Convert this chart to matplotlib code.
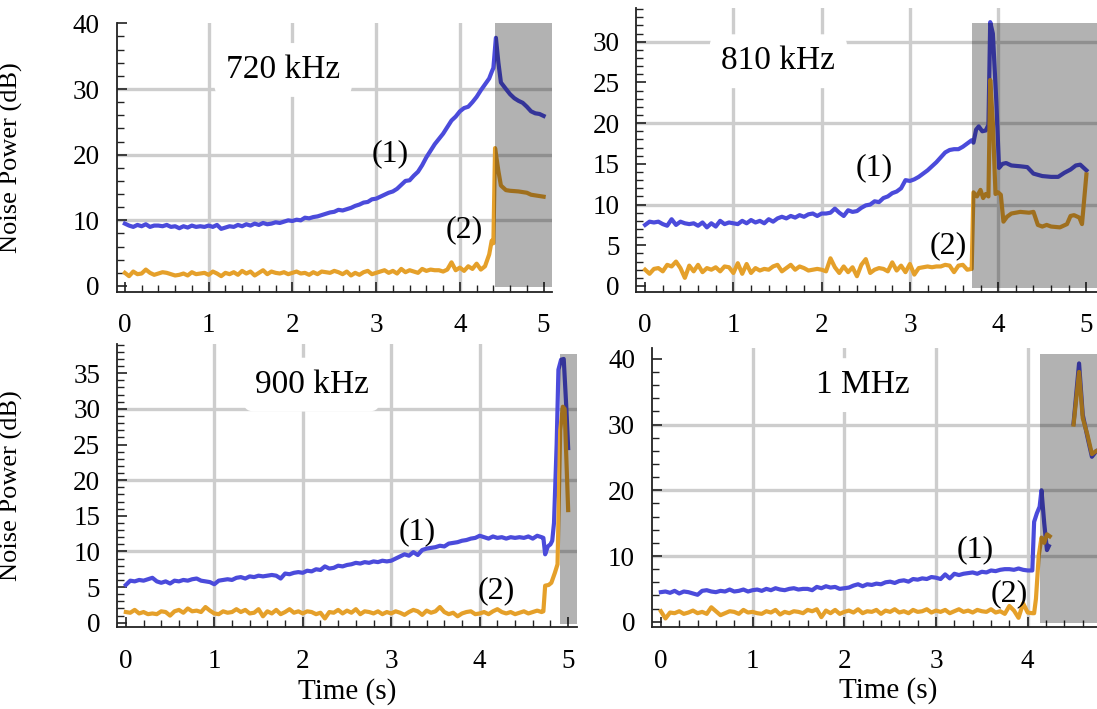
import numpy as np
import matplotlib
matplotlib.use("Agg")
import matplotlib.pyplot as plt
from matplotlib.ticker import MultipleLocator, FixedLocator

plt.rcParams['font.family'] = ['Liberation Serif', 'DejaVu Serif']

BLUE = '#4b4bdb'
ORANGE = '#e5a02a'
STEP = 0.05

# ---------------- 720 kHz ----------------
blue_720_base = [
    9.5, 9.2, 9.0, 9.3, 9.1, 9.4, 9.0, 9.2, 9.2, 9.1,
    9.3, 9.0, 9.1, 8.8, 9.1, 8.9, 9.2, 9.0, 9.1, 9.0,
    9.2, 9.0, 9.3, 8.7, 8.9, 9.1, 9.0, 9.3, 9.1, 9.4,
    9.2, 9.5, 9.3, 9.6, 9.4, 9.5, 9.7, 9.6, 9.8, 10.0,
    9.9, 10.1, 10.0, 10.4, 10.3, 10.5, 10.6, 10.8, 11.0, 11.2,
    11.3, 11.6, 11.5, 11.7, 11.9, 12.2, 12.4, 12.7, 12.8, 13.2,
    13.3, 13.6, 13.9, 14.2, 14.4, 14.8, 15.4, 16.0, 16.1, 16.8,
    17.4, 18.4, 19.6, 20.6, 21.6, 22.4, 23.2, 24.2, 25.2, 25.8,
    26.6, 27.1, 27.3, 28.0, 28.8, 29.8, 30.7, 31.6]
blue_720_ev_t = [4.38, 4.40, 4.43, 4.46, 4.49, 4.55, 4.60, 4.65, 4.70, 4.75, 4.80, 4.85, 4.90, 4.95, 5.00]
blue_720_ev = [32.6, 33.2, 37.8, 34.0, 31.0, 30.0, 29.2, 28.6, 28.2, 27.9, 27.3, 26.6, 26.3, 26.2, 25.9]
orange_720_base = [
    2.0, 1.5, 2.2, 1.8, 1.9, 2.5, 2.0, 1.7, 1.9, 2.1,
    2.0, 1.8, 1.6, 1.7, 1.9, 1.6, 2.1, 1.8, 1.9, 2.0,
    1.7, 2.2, 1.9, 1.5, 2.0, 1.8, 2.1, 1.7, 2.3, 1.9,
    2.2, 1.6, 2.0, 2.4, 1.8, 2.2, 2.0, 1.9, 2.1, 1.8,
    2.0, 2.2, 1.9, 2.0, 1.7, 2.1, 1.8, 2.2, 2.1, 2.0,
    2.3, 2.1, 1.8, 2.2, 1.6, 2.0, 1.7, 2.1, 2.3, 1.8,
    2.0, 2.2, 2.4, 2.0, 2.3, 1.9, 2.6, 2.1, 2.4, 2.2,
    2.0, 2.6, 2.3, 2.5, 2.4, 2.4, 2.2, 2.5, 3.6, 2.4,
    2.8, 2.3, 3.0, 2.6, 3.4, 2.5, 3.0, 4.8]
orange_720_ev_t = [4.38, 4.40, 4.42, 4.46, 4.49, 4.55, 4.60, 4.70, 4.80, 4.85, 4.90, 5.00]
orange_720_ev = [6.9, 6.5, 21.0, 17.5, 15.3, 14.6, 14.5, 14.4, 14.2, 13.9, 13.8, 13.6]

# ---------------- 810 kHz ----------------
blue_810_base = [
    7.5, 7.9, 7.8, 7.9, 7.6, 7.4, 8.2, 7.5, 7.9, 7.7,
    7.6, 7.7, 7.4, 7.8, 7.2, 7.7, 7.3, 8.0, 7.6, 7.8,
    7.7, 7.6, 8.0, 7.7, 8.1, 7.8, 8.0, 7.7, 8.2, 7.9,
    8.3, 8.5, 8.3, 8.6, 8.4, 8.7, 8.5, 8.8, 8.9, 8.6,
    8.9, 8.9, 9.0, 9.5, 9.0, 8.6, 9.3, 9.1, 9.2, 9.6,
    9.9, 10.0, 10.4, 10.3, 10.8, 11.0, 11.4, 11.6, 12.0, 13.0,
    12.9, 13.1, 13.4, 13.8, 14.2, 14.7, 15.2, 15.8, 16.4, 16.7,
    16.8, 16.8, 17.1, 17.5, 17.9]
blue_810_ev_t = [3.72, 3.75, 3.78, 3.82, 3.86, 3.89, 3.91, 3.94, 3.98, 4.01, 4.05, 4.09, 4.15,
                 4.25, 4.33, 4.40, 4.50, 4.60, 4.68, 4.75, 4.82, 4.88, 4.93, 5.00]
blue_810_ev = [17.6, 19.2, 19.6, 19.0, 19.1, 19.8, 32.4, 31.0, 22.5, 14.5, 15.0, 15.1, 14.8,
               14.7, 14.6, 13.8, 13.5, 13.4, 13.4, 13.9, 14.3, 14.8, 14.9, 14.2]
orange_810_base = [
    2.0, 1.5, 2.1, 2.2, 1.8, 2.6, 2.4, 3.0, 2.2, 1.0,
    2.5, 1.8, 2.6, 1.7, 2.2, 2.0, 2.3, 1.8, 2.4, 2.3,
    1.6, 2.8, 1.5, 2.7, 1.6, 2.2, 1.9, 2.1, 2.0, 2.4,
    2.6, 1.8, 2.2, 2.6, 2.0, 2.4, 2.2, 1.9, 2.0, 2.1,
    2.0, 1.8, 3.4, 2.3, 1.6, 2.4, 1.7, 2.3, 1.2, 2.6,
    3.3, 1.6, 2.0, 2.2, 2.1, 1.8, 2.9, 1.9, 2.5, 1.7,
    2.7, 1.4, 2.2, 2.3, 2.4, 2.3, 2.4, 2.4, 2.6, 2.5,
    1.7, 2.5, 2.6, 2.0, 2.1]
orange_810_ev_t = [3.72, 3.76, 3.80, 3.83, 3.86, 3.89, 3.91, 3.94, 3.97, 4.00, 4.03, 4.06, 4.10,
                   4.15, 4.25, 4.35, 4.40, 4.45, 4.50, 4.55, 4.60, 4.70, 4.78, 4.82, 4.86, 4.92,
                   4.95, 5.00]
orange_810_ev = [11.5, 11.0, 11.8, 10.8, 11.3, 11.0, 25.3, 20.0, 11.3, 11.5, 11.2, 7.9, 8.5,
                 8.9, 9.1, 9.0, 9.1, 7.5, 7.3, 7.5, 7.3, 7.2, 7.6, 8.6, 8.7, 8.4,
                 7.6, 13.7]

# ---------------- 900 kHz ----------------
blue_900_base = [
    5.3, 5.9, 5.8, 6.0, 5.9, 6.1, 6.3, 5.8, 5.6, 5.8,
    5.5, 5.9, 5.8, 6.0, 5.9, 6.1, 6.2, 5.9, 5.8, 5.7,
    5.4, 5.9, 6.0, 6.1, 6.0, 6.3, 6.4, 6.2, 6.5, 6.4,
    6.6, 6.5, 6.6, 6.7, 6.6, 6.2, 6.9, 6.8, 7.0, 7.1,
    7.0, 7.3, 7.2, 7.5, 7.4, 7.9, 7.6, 7.7, 8.0, 7.9,
    8.1, 8.2, 8.4, 8.3, 8.5, 8.4, 8.6, 8.5, 8.7, 8.6,
    8.7, 9.0, 9.3, 9.6, 9.4, 9.9, 9.5, 10.2, 10.4, 10.5,
    10.6, 10.8, 10.7, 11.1, 11.2, 11.3, 11.5, 11.6, 11.8, 11.9,
    12.2, 12.0, 11.8, 12.1, 11.9, 12.0, 11.8, 12.0, 11.9, 12.0,
    11.9, 12.1, 11.8, 12.2, 12.0]
blue_900_ev_t = [4.72, 4.74, 4.77, 4.80, 4.82, 4.84, 4.87, 4.89, 4.92, 4.95, 4.98, 5.00]
blue_900_ev = [11.9, 9.6, 10.7, 11.0, 11.5, 14.0, 25.0, 35.5, 36.9, 37.0, 30.0, 24.5]
orange_900_base = [
    1.5, 1.4, 1.8, 1.3, 1.5, 1.2, 1.3, 1.2, 1.6, 1.5,
    1.0, 1.6, 1.8, 1.4, 2.0, 1.6, 1.7, 1.5, 2.2, 1.7,
    1.3, 1.2, 1.6, 1.4, 1.5, 1.9, 1.5, 1.8, 1.3, 1.4,
    1.9, 0.9, 1.6, 1.3, 1.8, 1.2, 1.5, 1.9, 1.4, 1.6,
    1.3, 1.6, 1.5, 1.2, 1.4, 0.6, 1.5, 1.4, 1.8, 1.3,
    1.7, 1.4, 1.9, 1.2, 1.6, 1.5, 1.3, 1.6, 1.2, 1.5,
    1.3, 1.6, 1.4, 1.1, 1.5, 1.8, 1.6, 1.1, 1.7, 1.4,
    1.6, 2.2, 1.5, 1.2, 1.4, 0.9, 1.3, 1.5, 1.6, 1.2,
    1.3, 1.5, 1.2, 1.6, 1.9, 1.5, 1.3, 1.5, 1.2, 1.4,
    1.6, 1.3, 1.5, 1.7, 1.5]
orange_900_ev_t = [4.72, 4.74, 4.78, 4.81, 4.85, 4.88, 4.91, 4.94, 4.96, 5.00]
orange_900_ev = [1.6, 5.2, 5.3, 5.6, 7.0, 8.2, 27.0, 30.3, 30.0, 15.8]

# ---------------- 1 MHz ----------------
blue_1m_base = [
    4.5, 4.6, 4.4, 4.7, 4.3, 4.6, 4.5, 4.3, 4.1, 4.7,
    4.8, 4.6, 4.5, 4.7, 4.6, 4.9, 4.6, 4.7, 4.9, 4.6,
    4.8, 4.9, 4.7, 5.0, 4.8, 5.1, 4.9, 4.8, 5.0, 5.1,
    4.9, 5.0, 5.0, 4.8, 5.3, 5.1, 5.4, 5.2, 5.3, 5.0,
    5.1, 5.2, 5.5, 5.7, 5.4, 5.7, 5.6, 5.8, 5.7, 6.0,
    6.1, 5.9, 6.2, 6.3, 6.1, 6.5, 6.4, 6.6, 6.5, 6.8,
    6.7, 6.5, 7.2, 6.6, 7.3, 7.1, 7.3, 7.4, 7.5, 7.3,
    7.6, 7.5, 7.8, 7.7, 7.9, 8.0, 8.0, 7.9, 8.1, 7.9,
    7.8, 7.8]
blue_1m_ev_t = [4.07, 4.10, 4.13, 4.15, 4.18, 4.21, 4.23, 4.30,
                4.50, 4.56, 4.60, 4.65, 4.70, 4.75, 4.80]
blue_1m_ev = [15.2, 16.5, 17.5, 20.0, 15.0, 10.9, 11.5, np.nan,
              30.2, 39.3, 31.5, 28.2, 25.1, 26.0, 26.2]
orange_1m_base = [
    1.6, 0.5, 1.4, 1.3, 1.6, 1.2, 1.4, 1.7, 1.3, 1.5,
    1.2, 2.2, 1.6, 1.0, 1.3, 1.6, 1.5, 1.2, 1.8, 1.4,
    1.5, 1.3, 1.2, 1.6, 1.4, 1.8, 1.1, 1.5, 1.3, 1.6,
    1.5, 1.3, 1.8, 1.6, 1.9, 0.7, 1.7, 1.3, 1.8, 1.2,
    1.5, 1.7, 1.4, 1.9, 1.3, 1.6, 1.5, 1.8, 1.2, 1.7,
    1.5, 1.9, 1.4, 1.6, 1.3, 1.8, 1.5, 1.6, 1.9, 1.4,
    1.7, 1.5, 1.8, 1.3, 1.6, 1.9, 1.5, 1.7, 1.4, 1.8,
    1.6, 1.5, 1.9, 1.4, 1.6, 1.2, 2.4, 1.7, 0.6, 2.8,
    1.4, 1.3]
orange_1m_ev_t = [4.07, 4.09, 4.12, 4.15, 4.18, 4.21, 4.24, 4.30,
                  4.50, 4.56, 4.60, 4.65, 4.70, 4.75, 4.80]
orange_1m_ev = [1.3, 3.5, 10.0, 12.8, 12.0, 13.3, 13.0, np.nan,
                30.0, 38.0, 31.0, 28.5, 25.5, 26.0, 26.2]

titles = ['720 kHz', '810 kHz', '900 kHz', '1 MHz']
labels = ['(1)', '(2)']


def series(base, ev_t, ev_v):
    t = np.concatenate([np.arange(len(base)) * STEP, np.asarray(ev_t, float)])
    v = np.concatenate([np.asarray(base, float), np.asarray(ev_v, float)])
    return t, v


W, H = 1097, 709
panels = [
    dict(box=(116.5, 22.7, 552, 291.7), xlim=(-0.1, 5.10), ylim=(-0.87, 40.1),
         xmajor=[0, 1, 2, 3, 4, 5], yticks=10, yminor=2, ylabel=True, xlabel=False,
         blue=(blue_720_base, blue_720_ev_t, blue_720_ev),
         orange=(orange_720_base, orange_720_ev_t, orange_720_ev),
         shade=(4.42, 40.0), title_xy=(1.89, 32.9),
         l1=(3.17, 20.2), l2=(4.05, 8.5)),
    dict(box=(636.3, 8.3, 1097, 291.7), xlim=(-0.1, 5.12), ylim=(-0.7, 34.1),
         xmajor=[0, 1, 2, 3, 4, 5], yticks=5, yminor=1, ylabel=False, xlabel=False,
         blue=(blue_810_base, blue_810_ev_t, blue_810_ev),
         orange=(orange_810_base, orange_810_ev_t, orange_810_ev),
         shade=(3.70, 32.3), title_xy=(1.51, 27.6),
         l1=(2.60, 14.5), l2=(3.43, 5.0)),
    dict(box=(117, 344, 577, 627), xlim=(-0.1, 5.10), ylim=(-0.6, 39.1),
         xmajor=[0, 1, 2, 3, 4, 5], yticks=5, yminor=1, ylabel=True, xlabel=True,
         blue=(blue_900_base, blue_900_ev_t, blue_900_ev),
         orange=(orange_900_base, orange_900_ev_t, orange_900_ev),
         shade=(4.91, 37.7), title_xy=(2.10, 33.4),
         l1=(3.29, 12.8), l2=(4.19, 4.5)),
    dict(box=(651.7, 348.3, 1124, 627), xlim=(-0.1, 5.05), ylim=(-0.8, 41.6),
         xmajor=[0, 1, 2, 3, 4], yticks=10, yminor=2, ylabel=False, xlabel=True,
         blue=(blue_1m_base, blue_1m_ev_t, blue_1m_ev),
         orange=(orange_1m_base, orange_1m_ev_t, orange_1m_ev),
         shade=(4.13, 40.8), title_xy=(2.2, 36.0),
         l1=(3.43, 11.0), l2=(3.80, 4.3)),
]

fig = plt.figure(figsize=(W / 100, H / 100), dpi=100)

for p, title in zip(panels, titles):
    x0, y0, x1, y1 = p['box']
    ax = fig.add_axes([x0 / W, 1 - y1 / H, (x1 - x0) / W, (y1 - y0) / H])
    ax.set_xlim(*p['xlim'])
    ax.set_ylim(*p['ylim'])
    for s in ('top', 'right'):
        ax.spines[s].set_visible(False)
    for s in ('left', 'bottom'):
        ax.spines[s].set_linewidth(1.3)
        ax.spines[s].set_color('#222222')
    for gy in (10, 20, 30):
        ax.axhline(gy, color='#cdcdcd', lw=2.4, zorder=0.5)
    for gx in (1, 2, 3, 4):
        ax.axvline(gx, color='#cdcdcd', lw=2.4, zorder=0.5)

    tb, vb = series(*p['blue'])
    to, vo = series(*p['orange'])
    ax.plot(tb, vb, color=BLUE, lw=3.0, zorder=2.2)
    ax.plot(to, vo, color=ORANGE, lw=3.0, zorder=2.4)

    sx, stop = p['shade']
    ax.fill_between([sx, p['xlim'][1]], -0.2, stop, color='black', alpha=0.3,
                    lw=0, zorder=3)

    ax.text(*p['title_xy'], title, ha='center', va='center', fontsize=24,
            bbox=dict(boxstyle='round,pad=0.35', fc='white', ec='none'), zorder=1.5)
    ax.text(*p['l1'], labels[0], ha='center', va='center', fontsize=23, zorder=4)
    ax.text(*p['l2'], labels[1], ha='center', va='center', fontsize=23, zorder=4)

    ax.xaxis.set_major_locator(FixedLocator(p['xmajor']))
    ax.xaxis.set_minor_locator(MultipleLocator(0.2))
    ax.yaxis.set_major_locator(MultipleLocator(p['yticks']))
    ax.yaxis.set_minor_locator(MultipleLocator(p['yminor']))
    ax.tick_params(which='both', direction='in', top=False, right=False,
                   color='#222222', labelsize=19.5)
    ax.tick_params(which='major', length=7.5, width=1.2)
    ax.tick_params(which='minor', length=5, width=1.0)
    ax.tick_params(axis='x', which='major', pad=15.5)
    ax.tick_params(axis='y', which='major', pad=12)

    if p['ylabel']:
        ax.set_ylabel('Noise Power (dB)', fontsize=19)
        ax.yaxis.set_label_coords(-(x0 - 23) / (x1 - x0), 0.5)
    if p['xlabel']:
        ax.set_xlabel('Time (s)', fontsize=21)
        ax.xaxis.set_label_coords(0.5, -0.18)

fig.savefig('out.png', dpi=100)
